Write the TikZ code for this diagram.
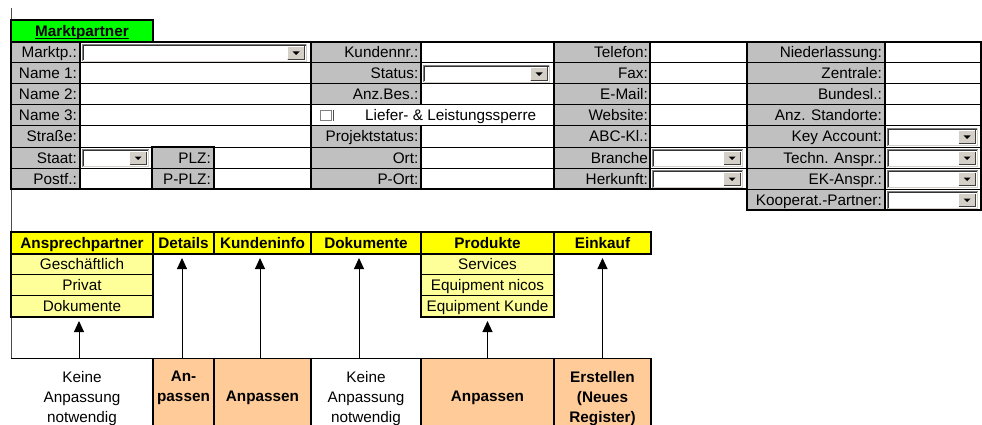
\documentclass[tikz,border=0pt]{standalone}
\usepackage{fontspec}
\setmainfont{Liberation Sans}
\usetikzlibrary{arrows.meta}

\definecolor{labelgray}{HTML}{C0C0C0}
\definecolor{headyellow}{HTML}{FFFF00}
\definecolor{paleyellow}{HTML}{FFFF99}
\definecolor{peach}{HTML}{FFCC99}
\definecolor{brightgreen}{HTML}{00FF00}
\definecolor{facegray}{HTML}{D4D0C8}
\definecolor{shadegray}{HTML}{808080}

\newcommand\cellfont{\fontsize{15.3}{20}\selectfont}

% drop-down field: #1 left x, #2 right x, #3 top of its row
\newcommand\ddfield[3]{%
  \fill[white] (#1,#3+2) rectangle (#2,#3+20);
  \draw[shadegray, line width=1pt] (#1+0.5,#3+19.5) -- (#1+0.5,#3+2.5) -- (#2-0.5,#3+2.5);
  \draw[black!80, line width=1pt] (#1+1.5,#3+18.5) -- (#1+1.5,#3+3.5) -- (#2-1.5,#3+3.5);
  \draw[facegray, line width=1pt] (#1+0.5,#3+19.5) -- (#2-0.5,#3+19.5) -- (#2-0.5,#3+2.5);
  \fill[facegray] (#2-20,#3+4) rectangle (#2-2,#3+18);
  \draw[white, line width=1pt] (#2-19.5,#3+17.5) -- (#2-19.5,#3+4.5) -- (#2-2.5,#3+4.5);
  \draw[black!75, line width=1pt] (#2-19.5,#3+17.5) -- (#2-2.5,#3+17.5) -- (#2-2.5,#3+4.5);
  \fill[black] (#2-14.5,#3+9.5) -- (#2-7.5,#3+9.5) -- (#2-11,#3+13) -- cycle;
}

\begin{document}
\begin{tikzpicture}[x=1pt, y=-1pt, font=\cellfont,
  thinrule/.style={line width=1pt},
  thickrule/.style={line width=2pt},
  lbl/.style={anchor=base east, inner sep=0pt},
  hdr/.style={draw, thickrule, fill=headyellow, font=\cellfont\bfseries,
    minimum height=21.5pt, inner sep=0pt, outer sep=0pt, text height=11pt, text depth=0pt},
  subcell/.style={draw, thinrule, fill=paleyellow, minimum height=21pt,
    inner sep=0pt, outer sep=0pt, text height=11pt, text depth=0pt},
  boxcell/.style={minimum height=84pt, inner sep=0pt, outer sep=0pt},
  boxtext/.style={anchor=base, inner sep=0pt},
  arrowline/.style={line width=1pt, -{Triangle[width=10pt,length=11pt]}, shorten >=4.5pt}]

\useasboundingbox (0,0) rectangle (982,425);
\clip (0,0) rectangle (982,425);

% sheet edge
\draw[black!70, line width=1pt] (11,8) -- (11,425);

% ---------- address form ----------
\fill[labelgray] (11,42) rectangle (80,189);
\fill[labelgray] (152,147) rectangle (214,189);
\fill[labelgray] (311,42) rectangle (421,105);
\fill[labelgray] (311,126) rectangle (421,189);
\fill[labelgray] (554,42) rectangle (650,189);
\fill[labelgray] (747,42) rectangle (885,210);

\foreach \y in {63,84,105,126,147,168}
  \draw[thinrule] (11,\y) -- (981,\y);
\draw[thinrule] (747,189) -- (981,189);

\foreach \x in {11,80,311,554,650}
  \draw[thickrule] (\x,42) -- (\x,189);
\draw[thickrule] (421,42) -- (421,105) (421,126) -- (421,189);
\foreach \x in {747,885,981}
  \draw[thickrule] (\x,42) -- (\x,210);
\draw[thickrule] (152,147) rectangle (214,189);
\draw[thickrule] (10,42) -- (982,42);
\draw[thickrule] (10,189) -- (748,189);
\draw[thickrule] (746,210) -- (982,210);

% title tab
\node[draw, thickrule, fill=brightgreen, minimum width=142pt, minimum height=22pt,
  inner sep=0pt, outer sep=0pt] (mpbox) at (82,31) {};
\node[anchor=base, inner sep=0pt, font=\cellfont\bfseries] (mptitle) at (82,36.5) {Marktpartner};
\draw[line width=1pt] ([yshift=-1.8pt]mptitle.base west) -- ([yshift=-1.8pt]mptitle.base east);

% field labels
\foreach \t [count=\i from 0] in {Marktp.:,Name 1:,Name 2:,Name 3:,Straße:,Staat:,Postf.:}
  \node[lbl] (ga\i) at (77,42+21*\i+16) {\t};
\node[lbl] (plz) at (211,147+16) {PLZ:};
\node[lbl] (pplz) at (211,168+16) {P-PLZ:};
\foreach \r/\t in {0/Kundennr.:,1/Status:,2/Anz.Bes.:,4/Projektstatus:,5/Ort:,6/P-Ort:}
  \node[lbl] (gb\r) at (418.5,42+21*\r+16) {\t};
\foreach \t [count=\i from 0] in {Telefon:,Fax:,E-Mail:,Website:,ABC-Kl.:,Branche,Herkunft:}
  \node[lbl] (gc\i) at (648,42+21*\i+16) {\t};
\foreach \t [count=\i from 0] in {Niederlassung:,Zentrale:,Bundesl.:,Anz. Standorte:,Key Account:,Techn. Anspr.:,EK-Anspr.:,Kooperat.-Partner:}
  \node[lbl] (gd\i) at (882,42+21*\i+16) {\t};

% check box row
\draw[shadegray, line width=1pt] (320.5,110.5) rectangle (331,121);
\draw[black!70, line width=1pt] (333.5,110) -- (333.5,121.5);
\node[anchor=base west, inner sep=0pt] (sperre) at (365,121) {Liefer- \& Leistungssperre};

% drop-down fields
\ddfield{82}{307}{42}
\ddfield{423}{550}{63}
\ddfield{82}{149}{147}
\ddfield{652}{743}{147}
\ddfield{652}{743}{168}
\ddfield{887}{978}{126}
\ddfield{887}{978}{147}
\ddfield{887}{978}{168}
\ddfield{887}{978}{189}

% ---------- register tabs ----------
\node[hdr, minimum width=142pt] (hAP) at (82,242.75) {Ansprechpartner};
\node[hdr, minimum width=61pt]  (hDE) at (183.5,242.75) {Details};
\node[hdr, minimum width=97pt]  (hKI) at (262.5,242.75) {Kundeninfo};
\node[hdr, minimum width=110pt] (hDO) at (366,242.75) {Dokumente};
\node[hdr, minimum width=133pt] (hPR) at (487.5,242.75) {Produkte};
\node[hdr, minimum width=97pt]  (hEK) at (602.5,242.75) {Einkauf};

\node[subcell, minimum width=142pt] (apA) at (82,264) {Geschäftlich};
\node[subcell, minimum width=142pt] (apB) at (82,285) {Privat};
\node[subcell, minimum width=142pt] (apC) at (82,306) {Dokumente};
\draw[thickrule] (apA.north west) rectangle (apC.south east);

\node[subcell, minimum width=133pt] (prA) at (487.5,264) {Services};
\node[subcell, minimum width=133pt] (prB) at (487.5,285) {Equipment nicos};
\node[subcell, minimum width=133pt] (prC) at (487.5,306) {Equipment Kunde};
\draw[thickrule] (prA.north west) rectangle (prC.south east);

% ---------- adaptation boxes ----------
\node[boxcell, fill=white, minimum width=142pt] (bAP) at (82,400) {};
\node[boxcell, fill=peach, minimum width=61pt]  (bDE) at (183.5,400) {};
\node[boxcell, fill=peach, minimum width=97pt]  (bKI) at (262.5,400) {};
\node[boxcell, fill=white, minimum width=110pt] (bDO) at (366,400) {};
\node[boxcell, fill=peach, minimum width=133pt] (bPR) at (487.5,400) {};
\node[boxcell, fill=peach, minimum width=97pt]  (bEK) at (602.5,400) {};

\draw[thinrule] (bAP.north west) -- (bEK.north east);
\foreach \b in {bDE,bKI,bDO,bPR,bEK}
  \draw[thickrule] (\b.north west) -- (\b.south west);
\draw[thickrule] (bEK.north east) -- (bEK.south east);

\node[boxtext] (tAP1) at (82,382) {Keine};
\node[boxtext] (tAP2) at (82,402) {Anpassung};
\node[boxtext] (tAP3) at (82,422) {notwendig};
\node[boxtext, font=\cellfont\bfseries] (tDE1) at (183.5,381) {An-};
\node[boxtext, font=\cellfont\bfseries] (tDE2) at (183.5,401) {passen};
\node[boxtext, font=\cellfont\bfseries] (tKI) at (262.5,401) {Anpassen};
\node[boxtext] (tDO1) at (366,382) {Keine};
\node[boxtext] (tDO2) at (366,402) {Anpassung};
\node[boxtext] (tDO3) at (366,422) {notwendig};
\node[boxtext, font=\cellfont\bfseries] (tPR) at (487.5,401) {Anpassen};
\node[boxtext, font=\cellfont\bfseries] (tEK1) at (602.5,382) {Erstellen};
\node[boxtext, font=\cellfont\bfseries] (tEK2) at (602.5,402) {(Neues};
\node[boxtext, font=\cellfont\bfseries] (tEK3) at (602.5,422) {Register)};

% ---------- arrows ----------
\draw[arrowline] ([xshift=-3pt]bAP.north) -- ([xshift=-3pt]apC.south);
\draw[arrowline] ([xshift=-1.5pt]bDE.north) -- ([xshift=-1.5pt]hDE.south);
\draw[arrowline] ([xshift=-2.5pt]bKI.north) -- ([xshift=-2.5pt]hKI.south);
\draw[arrowline] ([xshift=-7pt]bDO.north) -- ([xshift=-7pt]hDO.south);
\draw[arrowline] (bPR.north) -- (prC.south);
\draw[arrowline] (bEK.north) -- (hEK.south);

\end{tikzpicture}
\end{document}
